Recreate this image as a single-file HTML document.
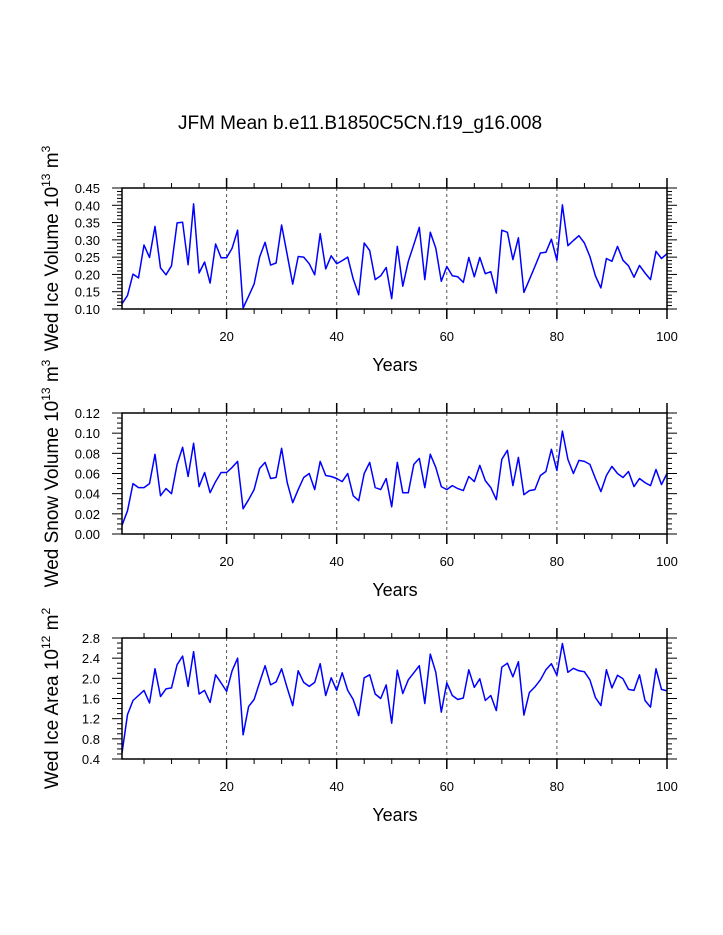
<!DOCTYPE html>
<html><head><meta charset="utf-8"><style>
body{margin:0;background:#fff}
svg{display:block;font-family:"Liberation Sans",sans-serif}
</style></head><body>
<svg id="c" width="723" height="935" xmlns="http://www.w3.org/2000/svg">
<text x="360" y="129" font-size="19" text-anchor="middle">JFM Mean b.e11.B1850C5CN.f19_g16.008</text>
</svg>
<script>
const years = Array.from({length:100},(_,i)=>i+1);
const iceVolume = [0.115,0.139,0.201,0.190,0.285,0.249,0.339,0.219,0.199,0.225,0.349,0.351,0.228,0.404,0.204,0.236,0.175,0.288,0.248,0.248,0.276,0.328,0.103,0.137,0.172,0.250,0.293,0.227,0.233,0.343,0.257,0.172,0.252,0.250,0.231,0.199,0.318,0.216,0.254,0.231,0.240,0.250,0.187,0.141,0.291,0.269,0.185,0.196,0.220,0.130,0.281,0.166,0.238,0.286,0.336,0.185,0.322,0.276,0.180,0.223,0.196,0.193,0.177,0.249,0.193,0.249,0.202,0.208,0.146,0.328,0.322,0.243,0.306,0.148,0.185,0.223,0.262,0.264,0.302,0.241,0.401,0.283,0.298,0.312,0.291,0.252,0.196,0.161,0.246,0.238,0.281,0.241,0.225,0.192,0.226,0.204,0.185,0.267,0.246,0.260];
const snowVolume = [0.0086,0.023,0.050,0.046,0.046,0.050,0.079,0.038,0.045,0.040,0.069,0.086,0.057,0.090,0.047,0.061,0.041,0.052,0.061,0.061,0.066,0.072,0.025,0.034,0.044,0.065,0.071,0.055,0.056,0.085,0.051,0.031,0.044,0.056,0.060,0.044,0.072,0.058,0.057,0.055,0.052,0.060,0.038,0.033,0.060,0.071,0.046,0.044,0.055,0.027,0.071,0.041,0.041,0.069,0.075,0.046,0.079,0.066,0.047,0.044,0.048,0.045,0.043,0.057,0.052,0.068,0.053,0.046,0.034,0.074,0.083,0.048,0.076,0.039,0.043,0.044,0.058,0.062,0.084,0.063,0.102,0.074,0.060,0.073,0.072,0.069,0.055,0.042,0.058,0.067,0.060,0.056,0.062,0.047,0.055,0.051,0.048,0.064,0.049,0.060];
const iceArea = [0.52,1.28,1.56,1.66,1.76,1.51,2.19,1.64,1.79,1.81,2.27,2.44,1.84,2.53,1.69,1.76,1.52,2.07,1.91,1.74,2.15,2.40,0.88,1.44,1.58,1.92,2.25,1.87,1.93,2.19,1.81,1.46,2.15,1.92,1.84,1.92,2.29,1.66,2.01,1.76,2.11,1.76,1.58,1.26,2.01,2.07,1.69,1.60,1.87,1.11,2.16,1.70,1.97,2.11,2.25,1.50,2.48,2.12,1.33,1.91,1.66,1.58,1.61,2.17,1.82,1.99,1.56,1.66,1.36,2.22,2.30,2.03,2.33,1.27,1.72,1.83,1.97,2.17,2.29,2.06,2.69,2.12,2.20,2.15,2.13,1.97,1.62,1.46,2.17,1.81,2.06,1.99,1.78,1.76,2.07,1.56,1.43,2.19,1.78,1.75];
const xTicks = [20,40,60,80,100];
const ticks1 = ["0.10","0.15","0.20","0.25","0.30","0.35","0.40","0.45"];
const ticks2 = ["0.00","0.02","0.04","0.06","0.08","0.10","0.12"];
const ticks3 = ["0.4","0.8","1.2","1.6","2.0","2.4","2.8"];

const svg=document.getElementById('c');
const NS="http://www.w3.org/2000/svg";
function el(t,a,p){const e=document.createElementNS(NS,t);for(const k in a)e.setAttribute(k,a[k]);(p||svg).appendChild(e);return e;}
const X0=122,X1=667,XMIN=1,XMAX=100;
const xs=v=>X0+(v-XMIN)/(XMAX-XMIN)*(X1-X0);

function panel(name,top,data,ticks,minor,titleParts){
  const bot=top+121;
  const ymin=parseFloat(ticks[0]),ymax=parseFloat(ticks[ticks.length-1]);
  const ys=v=>bot-(v-ymin)/(ymax-ymin)*(bot-top);
  const g=el('g',{});
  
  
  xTicks.forEach(t=>{ if(t<XMAX){const l=el('line',{x1:xs(t),x2:xs(t),y1:top,y2:bot,stroke:'#555','stroke-width':1,'stroke-dasharray':'3,3'},g);
    
    }});
  for(let t=5;t<=100;t+=5){const maj=t%20===0;const L=maj?10:5;
    el('line',{x1:xs(t),x2:xs(t),y1:bot,y2:bot+L,stroke:'#000','stroke-width':maj?1.5:1},g);
    el('line',{x1:xs(t),x2:xs(t),y1:top,y2:top-L,stroke:'#000','stroke-width':maj?1.5:1},g);}
  xTicks.forEach(t=>{const tx=el('text',{x:xs(t),y:bot+32,'font-size':13,'text-anchor':'middle'},g);tx.textContent=t;
    
    });
  for(let v=ymin;v<=ymax+1e-9;v+=minor){const r=(v-ymin)/(parseFloat(ticks[1])-ymin);const maj=Math.abs(r-Math.round(r))<1e-6;const L=maj?10:5;
    el('line',{x1:X0,x2:X0-L,y1:ys(v),y2:ys(v),stroke:'#000','stroke-width':1},g);
    el('line',{x1:X1,x2:X1+L,y1:ys(v),y2:ys(v),stroke:'#000','stroke-width':1},g);}
  ticks.forEach(t=>{const tx=el('text',{x:100,y:ys(parseFloat(t))+5,'font-size':13,'text-anchor':'end'},g);tx.textContent=t;
    
    });
  const pts=data.map((v,i)=>xs(years[i]).toFixed(1)+','+ys(v).toFixed(1)).join(' ');
  const pl=el('polyline',{points:pts,fill:'none',stroke:'#0000ff','stroke-width':1.5,'stroke-linejoin':'round'},g);
  
  
  const fr=el('rect',{x:X0,y:top,width:X1-X0,height:bot-top,fill:'none',stroke:'#000','stroke-width':1.5},g);
  
  
  const xt=el('text',{x:395,y:bot+62,'font-size':18,'text-anchor':'middle'},g);xt.textContent='Years';
  
  
  const cy=(top+bot)/2;
  const yt=el('text',{x:0,y:0,'font-size':19,'text-anchor':'middle',transform:`translate(58,${cy}) rotate(-90)`},g);
  
  
  titleParts.forEach(p=>{const s=el('tspan',{},yt);s.textContent=p[0];
    if(p[1]) s.setAttribute('dy',p[1]);
    if(p[2]) s.setAttribute('font-size',p[2]);});
}
panel('ice-volume',188,iceVolume,ticks1,0.01,[['Wed Ice Volume 10'],['13','-8','12'],[' m','8'],['3','-8','12']]);
panel('snow-volume',413,snowVolume,ticks2,0.005,[['Wed Snow Volume 10'],['13','-8','12'],[' m','8'],['3','-8','12']]);
panel('ice-area',638,iceArea,ticks3,0.1,[['Wed Ice Area 10'],['12','-8','12'],[' m','8'],['2','-8','12']]);
</script>
</body></html>
